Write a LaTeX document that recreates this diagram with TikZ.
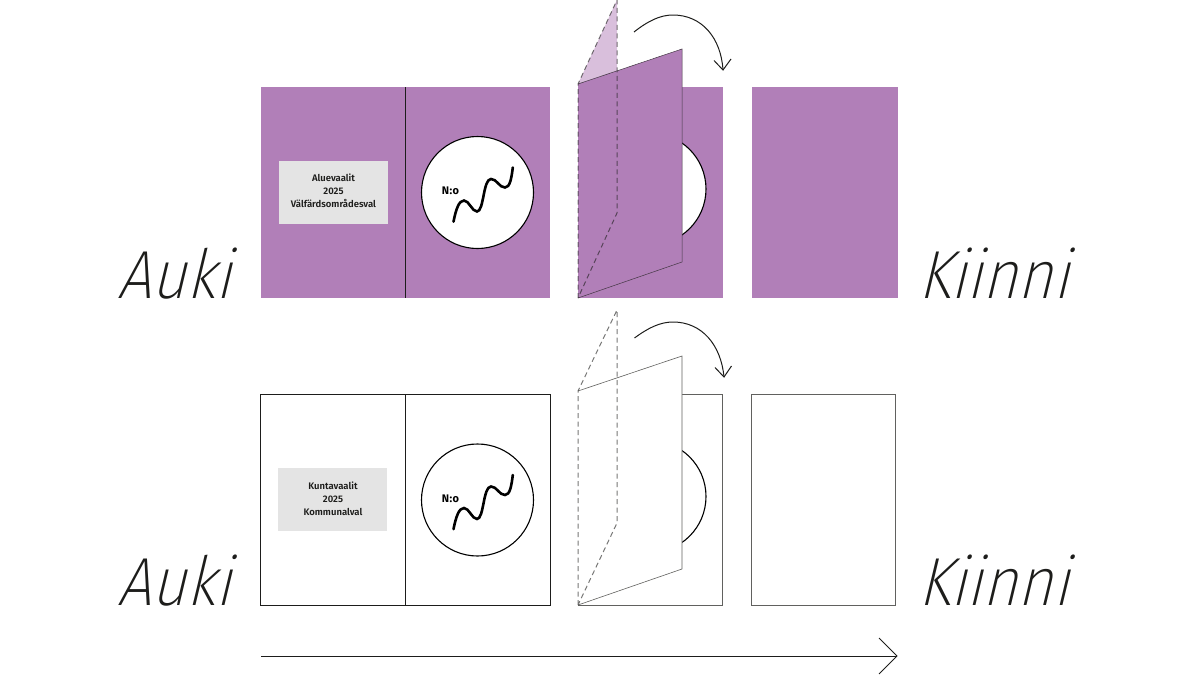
\documentclass[tikz,border=0pt]{standalone}
\usepackage{fontspec}
\setmainfont{Fira Sans}
\newfontfamily\bigfont{Fira Sans ExtraLight}[FakeSlant=0.24,FakeStretch=0.89]
\newfontfamily\smallfont{Fira Sans SemiBold}
\newfontfamily\numfont{Fira Sans Bold}[LetterSpace=4]
\definecolor{plum}{HTML}{B17FB8}
\definecolor{plumlight}{HTML}{D9BFDC}
\definecolor{labelgrey}{HTML}{E4E4E4}
\definecolor{ink}{HTML}{1D1D1B}
\tikzset{
  x=1pt,y=-1pt,
  bigword/.style={font=\bigfont\fontsize{68}{68}\selectfont,text=ink,inner sep=0pt,anchor=base west},
  labeltext/.style={font=\smallfont\fontsize{9.5}{13}\selectfont,text=ink,align=center,inner sep=0pt},
  numtext/.style={font=\numfont\fontsize{11}{13}\selectfont,text=black,inner sep=0pt},
  labelbox/.style={fill=labelgrey,draw=none},
  thinline/.style={draw=ink,line width=0.7pt},
  edgeline/.style={draw=ink!75!plum,line width=0.5pt},
  outline/.style={draw=ink!70,line width=0.6pt},
  foldghost/.style={draw=ink,draw opacity=0.6,line width=1pt,dash pattern=on 5pt off 3.5pt},
  turn/.style={draw=ink,line width=1pt},
  squiggle/.style={draw=black,line width=2.6pt,line cap=round},
  disc/.style={fill=white,draw=black,line width=1.1pt}
}
\newcommand{\wave}[2]{%
 \begin{scope}[shift={(#1,#2)}]
  \draw[squiggle] (453.5,221.7) .. controls (456,209) and (459,200.5) .. (464,200.5)
    .. controls (469,200.5) and (472,211.5) .. (477,211.5)
    .. controls (484,211.5) and (483,179) .. (491,179)
    .. controls (497,179) and (499,187.5) .. (505,187.5)
    .. controls (510,187.5) and (511.5,178) .. (512.8,167.5);
 \end{scope}}
\begin{document}
\begin{tikzpicture}
\useasboundingbox (0,0) rectangle (1200,675);
% top row, open
\fill[plum] (261,87) rectangle (550,298);
\draw[thinline] (405.5,87) -- (405.5,298);
\fill[labelbox] (279,161) rectangle (388,224);
\node[labeltext] (lab1) at (333.5,191) {Aluevaalit\\2025\\Välfärdsområdesval};
\draw[disc] (477.5,192.5) circle (56);
\node[numtext] (no1) at (450.5,191) {N:o};
\wave{0}{0}
% top row, folding
\fill[plum] (578,87) rectangle (723,298);
\begin{scope}
 \clip (682,87) rectangle (723,298);
 \draw[disc] (650,189) circle (56);
\end{scope}
\fill[plumlight] (578,84) -- (617,0) -- (617,71) -- cycle;
\fill[plum] (578,84) -- (682,49) -- (682,262) -- (578,298) -- cycle;
\draw[edgeline] (578,84) -- (682,49) -- (682,262) -- (578,298);
\draw[foldghost] (578,298) -- (578,84) -- (617,0) -- (617,213) -- (578,298);
\draw[turn] (634,32) .. controls (648,21) and (660,15) .. (673,15) .. controls (702,15) and (721,38) .. (723,70);
\draw[turn,line join=miter] (714,60.5) -- (723,70) -- (731,59);
% top row, closed
\fill[plum] (751.5,87) rectangle (897.5,298);
% bottom row, open
\draw[thinline] (260.5,394.5) rectangle (550.5,605.5);
\draw[thinline] (405.5,394.5) -- (405.5,605.5);
\fill[labelbox] (278,468) rectangle (387,531);
\node[labeltext] (lab2) at (333,498.5) {Kuntavaalit\\2025\\Kommunalval};
\draw[disc] (477.5,500) circle (56);
\node[numtext] (no2) at (450.5,498.5) {N:o};
\wave{0}{307.5}
% bottom row, folding
\draw[outline] (682,394.5) -- (722.5,394.5) -- (722.5,605.5) -- (578,605.5);
\begin{scope}
 \clip (682,394) rectangle (723,606);
 \draw[disc] (650,496.5) circle (56);
\end{scope}
\fill[white] (578,391) -- (682,356) -- (682,569) -- (578,605) -- cycle;
\draw[outline] (578,391) -- (682,356) -- (682,569) -- (578,605);
\draw[foldghost] (578,605) -- (578,391) -- (617,310) -- (617,523) -- (578,605);
\draw[turn] (634.5,338) .. controls (648,328) and (660,322) .. (673,322) .. controls (702,322) and (721,345) .. (724,377);
\draw[turn,line join=miter] (715,367.5) -- (724,377) -- (731.5,366);
% bottom row, closed
\draw[outline] (751.5,394.5) rectangle (895.5,605.5);
% words
\node[bigword] (auki1) at (117,298) {Auki};
\node[bigword] (kiinni1) at (918,298) {Kiinni};
\node[bigword] (auki2) at (117,605) {Auki};
\node[bigword] (kiinni2) at (918,605) {Kiinni};
% timeline
\coordinate (tstart) at (261,656);
\coordinate (tend) at (897,656);
\draw[turn] (tstart) -- (tend);
\draw[turn,line join=miter] (879,638) -- (tend) -- (879,674);
\end{tikzpicture}
\end{document}
